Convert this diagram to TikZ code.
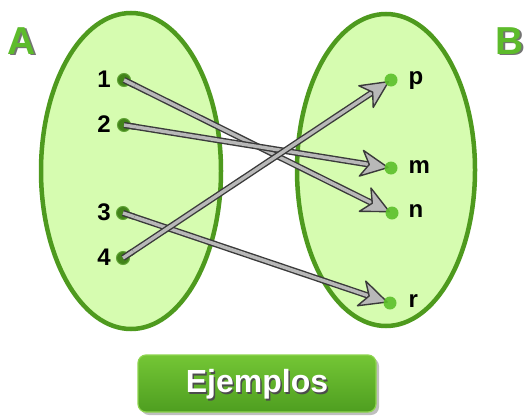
\documentclass[tikz,border=0pt]{standalone}
\usepackage{fontspec}
\setmainfont{Liberation Sans}
\usetikzlibrary{calc}
\definecolor{setfill}{HTML}{D6FCB0}
\definecolor{setdraw}{HTML}{4E9A1E}
\definecolor{dotgreen}{HTML}{5CC02A}
\definecolor{letgreen}{HTML}{5DBB2B}
\definecolor{btntop}{HTML}{74C635}
\definecolor{btnbot}{HTML}{4E9E20}
\definecolor{btnedge}{HTML}{8ED44F}
\definecolor{arrfill}{HTML}{B8B8B8}
\definecolor{arrdraw}{HTML}{3A3A3A}
\tikzset{
  setshape/.style={fill=setfill, draw=setdraw, line width=4.5pt},
  dotnode/.style={circle, fill=dotgreen, draw=setdraw!90, line width=1pt, minimum size=13pt, inner sep=0pt},
  numlabel/.style={font=\bfseries\fontsize{24}{24}\selectfont, text=black, anchor=center},
  letlabel/.style={font=\bfseries\fontsize{24}{24}\selectfont, text=black, anchor=west},
  shaft/.style={draw=arrdraw, double=arrfill, double distance=3.4pt, line width=1.4pt},
  headshape/.style={draw=arrdraw, fill=arrfill, line width=1.4pt, line join=round},
  setname/.style={font=\bfseries\fontsize{39}{39}\selectfont, text=letgreen},
  btntext/.style={font=\bfseries\fontsize{32}{32}\selectfont, text=white}
}
\begin{document}
\begin{tikzpicture}[x=1pt,y=-1pt]
\useasboundingbox (0,0) rectangle (526,415);
% sets
\draw[setshape] (131,171) ellipse [x radius=90, y radius=158];
\draw[setshape] (386,170) ellipse [x radius=89, y radius=156];
% set names
\node[setname, text=black!55] at (23.5,42.5) {A};
\node[setname] (A) at (22,41) {A};
\node[setname, text=black!55] at (511.5,42.5) {B};
\node[setname] (B) at (510,41) {B};
% dot positions
\coordinate (1) at (124,80);
\coordinate (2) at (124,125);
\coordinate (3) at (123,213);
\coordinate (4) at (123,258);
\coordinate (p) at (391,80);
\coordinate (m) at (391,168);
\coordinate (n) at (392,213);
\coordinate (r) at (390,303);
% arrows
\foreach \s/\t in {1/n,2/m,3/r,4/p}{
  \coordinate (T\t) at ($(\t)!3pt!(\s)$);
  \coordinate (K\t) at ($(\t)!30pt!(\s)$);
  \coordinate (I\t) at ($(\t)!22pt!(\s)$);
  \coordinate (W\t) at ($(K\t)!13pt!90:(T\t)$);
  \coordinate (V\t) at ($(K\t)!13pt!-90:(T\t)$);
  \draw[shaft] (\s) -- (I\t);
  \draw[headshape] (T\t) -- (W\t) -- (I\t) -- (V\t) -- cycle;
}
% dots
\node[dotnode, fill=setdraw!85!black] (d1) at (1) {};
\node[dotnode, fill=setdraw!85!black] (d2) at (2) {};
\node[dotnode, fill=setdraw!85!black] (d3) at (3) {};
\node[dotnode, fill=setdraw!85!black] (d4) at (4) {};
\node[dotnode, draw=none, opacity=0.9] (dp) at (p) {};
\node[dotnode, draw=none, opacity=0.9] (dm) at (m) {};
\node[dotnode, draw=none, opacity=0.9] (dn) at (n) {};
\node[dotnode, draw=none, opacity=0.9] (dr) at (r) {};
% redraw shafts start over left dots
\foreach \s/\t in {1/n,2/m,3/r,4/p}{
  \draw[shaft] (\s) -- ($(\s)!12pt!(\t)$);
}
% labels
\node[numlabel] (l1) at (104,79) {1};
\node[numlabel] (l2) at (104,124) {2};
\node[numlabel] (l3) at (104,212) {3};
\node[numlabel] (l4) at (104,257) {4};
\node[letlabel] (lp) at (405,81) {p};
\node[letlabel] (lm) at (405,167) {m};
\node[letlabel] (ln) at (405,211) {n};
\node[letlabel] (lr) at (405,301) {r};
% button
\fill[black!25, rounded corners=8pt] (141,358) rectangle (379,415);
\shade[top color=btntop, bottom color=btnbot, draw=btnedge, line width=1.2pt, rounded corners=8pt] (138,355) rectangle (376,412);
\node[btntext, text=black!70] at (258.5,386) {Ejemplos};
\node[btntext] (btn) at (257,384.5) {Ejemplos};
\end{tikzpicture}
\end{document}
